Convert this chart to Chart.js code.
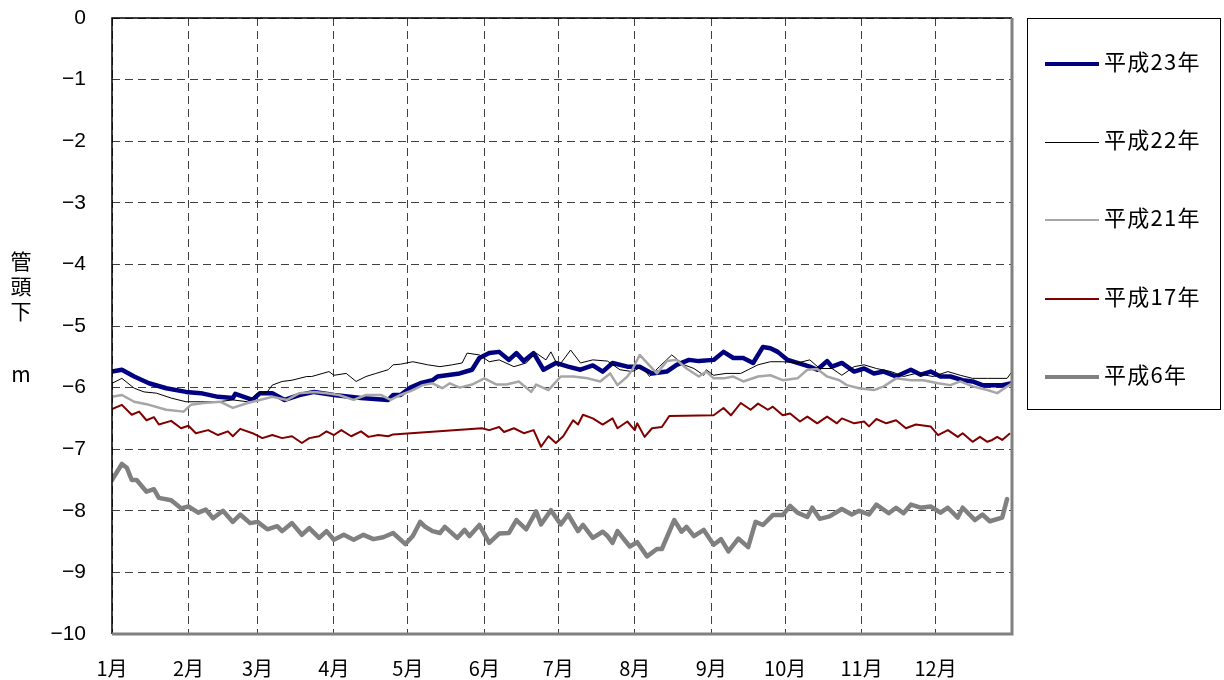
<!DOCTYPE html>
<html>
<head>
<meta charset="utf-8">
<script src="https://cdn.jsdelivr.net/npm/chart.js@4.4.1/dist/chart.umd.min.js"></script>
<style>
  body { margin: 0; background: #fff; }
  #wrap { position: relative; width: 1224px; height: 680px; font-family: "Noto Sans CJK JP", "Liberation Sans", sans-serif; }
  #ytitle { position: absolute; left: 8px; top: 248px; width: 26px; font-size: 21px; line-height: 25px; text-align: center; color: #000; }
  #ytitle .m { margin-top: 38px; }
  #legend { position: absolute; left: 1027px; top: 18px; width: 194px; height: 392px; border: 1px solid #000; box-sizing: border-box; }
  .item { position: absolute; left: 17px; height: 26px; font-size: 22px; line-height: 26px; letter-spacing: 1.3px; color: #000; white-space: nowrap; }
  .item span.ln { display: inline-block; width: 54px; vertical-align: middle; margin-right: 5px; }
</style>
</head>
<body>
<div id="wrap">
  <canvas id="myChart" width="1224" height="680"></canvas>
  <div id="ytitle">管<br>頭<br>下<div class="m">m</div></div>
  <div id="legend"></div>
</div>
<script>
// 月の区切り（1月1日からの日数）
const monthStarts = [0, 31, 59, 90, 120, 151, 181, 212, 243, 273, 304, 334];
const monthLabels = ['1月', '2月', '3月', '4月', '5月', '6月', '7月', '8月', '9月', '10月', '11月', '12月'];
const seriesNames = ['平成23年', '平成22年', '平成21年', '平成17年', '平成6年'];

// 平成23年
const h23Days = [0, 4, 9, 15, 22, 30, 36, 43, 49, 50, 57, 60, 65, 70, 76, 82, 90, 101, 112, 114, 117, 121, 125, 130, 132, 141, 146, 149, 153, 157, 161, 164, 167, 171, 175, 180, 185, 190, 195, 199, 203, 209, 214, 219, 225, 229, 234, 238, 244, 248, 252, 256, 260, 264, 267, 270, 274, 278, 283, 286, 290, 292, 296, 301, 305, 309, 313, 318, 324, 328, 332, 336, 340, 345, 349, 353, 357, 361, 365];
const h23Vals = [-5.74, -5.71, -5.82, -5.93, -6.01, -6.07, -6.09, -6.15, -6.17, -6.10, -6.2, -6.09, -6.09, -6.2, -6.12, -6.07, -6.12, -6.17, -6.2, -6.12, -6.12, -6.0, -5.93, -5.88, -5.82, -5.77, -5.71, -5.52, -5.44, -5.42, -5.55, -5.44, -5.57, -5.44, -5.71, -5.6, -5.66, -5.71, -5.64, -5.74, -5.6, -5.66, -5.66, -5.77, -5.74, -5.63, -5.55, -5.57, -5.55, -5.42, -5.52, -5.52, -5.6, -5.34, -5.36, -5.42, -5.55, -5.6, -5.66, -5.71, -5.57, -5.66, -5.6, -5.74, -5.69, -5.77, -5.74, -5.82, -5.71, -5.79, -5.74, -5.82, -5.82, -5.88, -5.9, -5.96, -5.96, -5.96, -5.93];

// 平成22年
const h22Days = [0, 4, 9, 13, 18, 24, 30, 36, 43, 49, 55, 59, 63, 65, 69, 73, 79, 81, 88, 90, 95, 99, 103, 107, 112, 114, 117, 122, 128, 133, 138, 142, 144, 149, 153, 157, 163, 168, 172, 176, 178, 181, 186, 190, 195, 201, 206, 211, 215, 218, 222, 227, 232, 236, 240, 241, 244, 249, 255, 258, 262, 267, 272, 278, 283, 287, 292, 296, 301, 305, 310, 316, 321, 326, 333, 339, 344, 349, 355, 363, 365];
const h22Vals = [-5.93, -5.85, -6.01, -6.07, -6.09, -6.17, -6.23, -6.23, -6.23, -6.2, -6.23, -6.09, -6.07, -5.96, -5.9, -5.88, -5.82, -5.82, -5.74, -5.8, -5.77, -5.9, -5.82, -5.77, -5.71, -5.63, -5.62, -5.58, -5.63, -5.66, -5.63, -5.6, -5.44, -5.47, -5.58, -5.55, -5.66, -5.6, -5.44, -5.55, -5.42, -5.66, -5.39, -5.6, -5.55, -5.57, -5.71, -5.74, -5.66, -5.82, -5.66, -5.47, -5.63, -5.69, -5.8, -5.71, -5.8, -5.77, -5.77, -5.71, -5.63, -5.58, -5.58, -5.6, -5.55, -5.69, -5.69, -5.8, -5.66, -5.63, -5.69, -5.74, -5.82, -5.77, -5.82, -5.74, -5.8, -5.85, -5.85, -5.85, -5.74];

// 平成21年
const h21Days = [0, 4, 9, 15, 22, 29, 32, 37, 44, 49, 55, 60, 65, 71, 76, 82, 87, 92, 98, 103, 109, 113, 117, 122, 126, 130, 134, 137, 141, 146, 151, 156, 160, 165, 170, 172, 177, 182, 187, 193, 198, 202, 205, 209, 211, 214, 217, 221, 225, 229, 233, 238, 241, 244, 248, 252, 256, 262, 267, 272, 278, 282, 286, 290, 295, 298, 303, 309, 313, 318, 324, 329, 335, 340, 344, 349, 355, 359, 365];
const h21Vals = [-6.15, -6.12, -6.23, -6.28, -6.36, -6.39, -6.28, -6.25, -6.23, -6.33, -6.25, -6.2, -6.15, -6.2, -6.09, -6.07, -6.09, -6.12, -6.2, -6.12, -6.12, -6.2, -6.12, -6.04, -5.96, -5.93, -6.01, -5.93, -6.0, -5.95, -5.85, -5.95, -5.95, -5.9, -6.07, -5.95, -6.04, -5.82, -5.82, -5.85, -5.9, -5.77, -5.96, -5.82, -5.71, -5.47, -5.6, -5.77, -5.57, -5.55, -5.69, -5.82, -5.74, -5.85, -5.85, -5.82, -5.9, -5.82, -5.8, -5.88, -5.85, -5.71, -5.7, -5.82, -5.88, -5.96, -6.01, -6.04, -5.98, -5.85, -5.88, -5.88, -5.93, -5.96, -5.9, -5.98, -6.04, -6.09, -5.93];

// 平成17年（欠測期間は直線でつながる）
const h17Days = [0, 4, 8, 11, 14, 17, 19, 24, 28, 31, 34, 39, 43, 47, 49, 52, 57, 61, 65, 69, 73, 77, 80, 84, 87, 90, 93, 97, 101, 104, 108, 112, 114, 150, 153, 157, 159, 163, 167, 171, 174, 177, 180, 183, 187, 189, 191, 195, 199, 203, 205, 209, 212, 213, 216, 219, 223, 226, 244, 248, 251, 255, 259, 262, 266, 268, 272, 275, 279, 282, 286, 290, 294, 296, 301, 305, 307, 310, 314, 318, 322, 326, 332, 335, 339, 343, 345, 349, 352, 355, 357, 359, 361, 364];
const h17Vals = [-6.35, -6.28, -6.44, -6.39, -6.53, -6.48, -6.6, -6.54, -6.66, -6.62, -6.74, -6.69, -6.77, -6.71, -6.79, -6.67, -6.74, -6.82, -6.77, -6.82, -6.79, -6.9, -6.82, -6.79, -6.71, -6.77, -6.69, -6.79, -6.71, -6.8, -6.77, -6.79, -6.76, -6.66, -6.69, -6.64, -6.72, -6.66, -6.74, -6.69, -6.96, -6.79, -6.9, -6.79, -6.53, -6.6, -6.44, -6.5, -6.6, -6.5, -6.66, -6.55, -6.69, -6.58, -6.8, -6.66, -6.64, -6.46, -6.45, -6.33, -6.45, -6.25, -6.36, -6.26, -6.36, -6.31, -6.45, -6.42, -6.55, -6.47, -6.58, -6.47, -6.58, -6.5, -6.58, -6.55, -6.63, -6.51, -6.58, -6.53, -6.66, -6.6, -6.63, -6.77, -6.69, -6.8, -6.74, -6.88, -6.8, -6.88, -6.85, -6.8, -6.85, -6.75];

// 平成6年
const h6Days = [0, 4, 6, 8, 10, 14, 17, 19, 24, 28, 31, 35, 38, 41, 45, 49, 52, 56, 59, 63, 67, 69, 73, 77, 80, 84, 87, 90, 94, 98, 102, 106, 110, 114, 119, 122, 125, 127, 130, 133, 135, 140, 143, 145, 149, 153, 157, 161, 164, 168, 172, 174, 178, 182, 185, 189, 191, 195, 199, 201, 203, 205, 210, 213, 217, 221, 223, 226, 228, 231, 233, 236, 240, 244, 247, 250, 254, 258, 261, 264, 268, 272, 275, 278, 282, 284, 287, 291, 296, 300, 303, 307, 310, 315, 318, 321, 324, 328, 332, 336, 339, 343, 345, 350, 353, 356, 361, 363];
const h6Vals = [-7.5, -7.24, -7.3, -7.5, -7.5, -7.69, -7.65, -7.79, -7.83, -7.96, -7.93, -8.03, -7.98, -8.12, -8.0, -8.18, -8.06, -8.2, -8.18, -8.3, -8.25, -8.33, -8.2, -8.39, -8.28, -8.44, -8.33, -8.47, -8.39, -8.47, -8.39, -8.46, -8.43, -8.36, -8.54, -8.41, -8.18, -8.26, -8.33, -8.36, -8.26, -8.44, -8.31, -8.41, -8.23, -8.52, -8.37, -8.36, -8.15, -8.3, -8.01, -8.22, -7.99, -8.22, -8.06, -8.33, -8.23, -8.44, -8.34, -8.41, -8.52, -8.33, -8.58, -8.51, -8.74, -8.62, -8.62, -8.34, -8.15, -8.34, -8.26, -8.41, -8.31, -8.55, -8.46, -8.66, -8.45, -8.59, -8.18, -8.23, -8.07, -8.07, -7.92, -8.03, -8.1, -7.95, -8.13, -8.09, -7.97, -8.06, -8.0, -8.06, -7.9, -8.04, -7.95, -8.04, -7.9, -7.95, -7.93, -8.03, -7.95, -8.11, -7.95, -8.15, -8.06, -8.17, -8.11, -7.81];

const seriesDays = [h23Days, h22Days, h21Days, h17Days, h6Days];
const seriesVals = [h23Vals, h22Vals, h21Vals, h17Vals, h6Vals];
const seriesColors = ['#000080', '#000000', '#a6a6a6', '#800000', '#808080'];
const seriesWidths = [4.5, 1, 2.5, 2, 4.5];

const datasets = seriesNames.map((name, i) => ({
  label: name,
  data: seriesDays[i].map((d, k) => ({ x: d, y: seriesVals[i][k] })),
  borderColor: seriesColors[i],
  borderWidth: seriesWidths[i],
  borderJoinStyle: 'round',
  borderCapStyle: 'round',
  pointRadius: 0,
  tension: 0,
  fill: false,
  order: seriesNames.length - i,
}));

const xFont = { family: '"Noto Sans CJK JP", sans-serif', size: 20 };
const yFont = { family: '"Liberation Sans", Arial, sans-serif', size: 21 };

// 枠線（左・上は黒、右・下は灰色）
const frame = {
  id: 'frame',
  afterDatasetsDraw(chart) {
    const { ctx, chartArea: a } = chart;
    ctx.save();
    ctx.strokeStyle = '#000';
    ctx.lineWidth = 1.5;
    ctx.beginPath();
    ctx.moveTo(a.left, a.bottom);
    ctx.lineTo(a.left, a.top);
    ctx.lineTo(a.right, a.top);
    ctx.stroke();
    ctx.strokeStyle = '#808080';
    ctx.lineWidth = 3;
    ctx.beginPath();
    ctx.moveTo(a.left, a.bottom);
    ctx.lineTo(a.right, a.bottom);
    ctx.lineTo(a.right, a.top);
    ctx.stroke();
    ctx.restore();
  }
};

const ctx = document.getElementById('myChart').getContext('2d');
const myChart = new Chart(ctx, {
  type: 'line',
  data: { datasets: datasets },
  options: {
    responsive: false,
    animation: false,
    layout: { padding: { left: 0, right: 212, top: 18, bottom: 0 } },
    plugins: { legend: { display: false }, tooltip: { enabled: false } },
    scales: {
      x: {
        type: 'linear',
        min: 0,
        max: 365,
        afterBuildTicks: s => { s.ticks = monthStarts.map(v => ({ value: v })); },
        afterFit: s => { s.height = 46; s.paddingLeft = 0; s.paddingRight = 0; },
        ticks: {
          autoSkip: false,
          maxRotation: 0,
          padding: 22,
          color: '#000',
          font: xFont,
          callback: v => monthLabels[monthStarts.indexOf(v)],
        },
        grid: { color: '#404040', lineWidth: 1, drawTicks: false },
        border: { display: false, dash: [8, 5] },
      },
      y: {
        min: -10,
        max: 0,
        afterFit: s => { s.width = 112; s.paddingTop = 0; s.paddingBottom = 0; },
        ticks: {
          stepSize: 1,
          padding: 26,
          color: '#000',
          font: yFont,
          callback: v => String(v).replace('-', '\u2212'),
        },
        grid: { color: '#404040', lineWidth: 1, drawTicks: false },
        border: { display: false, dash: [8, 5] },
      },
    },
  },
  plugins: [frame],
});

// 凡例
const legendTops = [28, 106, 184, 263, 341];
const legend = document.getElementById('legend');
seriesNames.forEach((name, i) => {
  const div = document.createElement('div');
  div.className = 'item';
  div.style.top = legendTops[i] + 'px';
  div.innerHTML = '<span class="ln" style="border-top:' + Math.max(1, seriesWidths[i]) + 'px solid ' + seriesColors[i] + '"></span>' + name;
  legend.appendChild(div);
});
</script>
</body>
</html>
